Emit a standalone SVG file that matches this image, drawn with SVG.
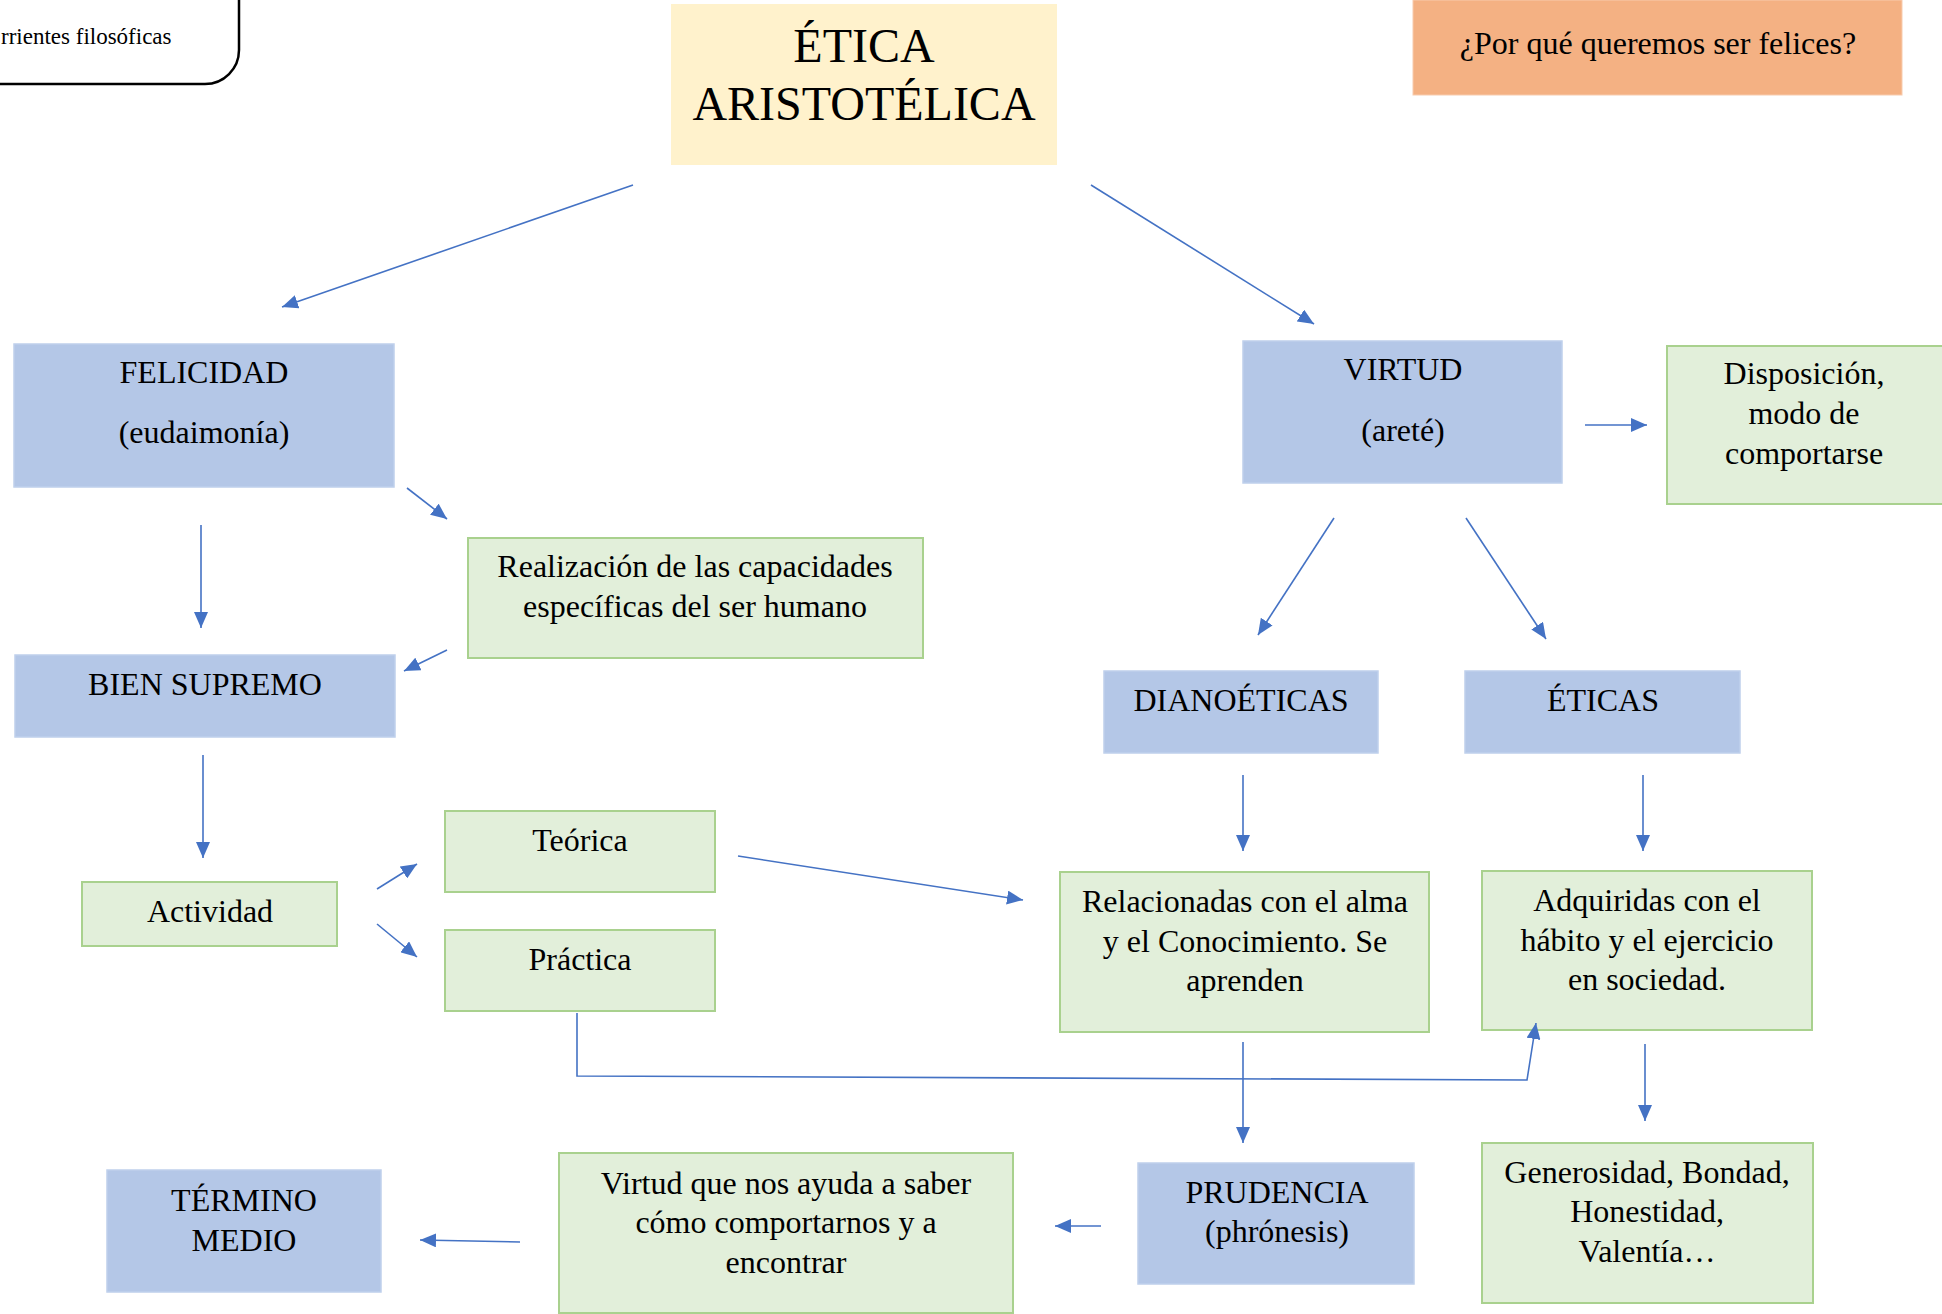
<svg xmlns="http://www.w3.org/2000/svg" width="1942" height="1314" viewBox="0 0 1942 1314">
<defs>
<style>
text{font-family:"Liberation Serif","Times New Roman",serif;fill:#000;text-anchor:middle}
.t{font-size:32px}
.blue{fill:#B4C7E7;stroke:#BFD0EC;stroke-width:1.5}
.green{fill:#E2EFDA;stroke:#A9D18E;stroke-width:2}
.c{fill:none;stroke:#4472C4;stroke-width:1.6}
</style>
<marker id="ah" markerUnits="userSpaceOnUse" markerWidth="18" markerHeight="14" refX="16" refY="7" orient="auto">
<path d="M0,0 L16,7 L0,14 Z" fill="#4472C4"/>
</marker>
</defs>
<rect width="1942" height="1314" fill="#fff"/>

<g id="corrientes">
<rect x="-200" y="-100" width="439" height="184" rx="34" fill="#fff" stroke="#000" stroke-width="2.5"/>
<text x="1" y="44" style="font-size:23px;text-anchor:start">rrientes filosóficas</text>
</g>

<g id="etica">
<rect x="671" y="4" width="386" height="161" fill="#FFF2CC"/>
<text x="864" y="62" style="font-size:48px">ÉTICA</text>
<text x="864" y="120" style="font-size:48px">ARISTOTÉLICA</text>
</g>

<g id="pregunta">
<rect x="1413" y="0" width="489" height="95" fill="#F4B183" stroke="#F8CBAD" stroke-width="1"/>
<text class="t" x="1658" y="54">¿Por qué queremos ser felices?</text>
</g>

<g id="felicidad">
<rect class="blue" x="14" y="344" width="380" height="143"/>
<text class="t" x="204" y="383">FELICIDAD</text>
<text class="t" x="204" y="443">(eudaimonía)</text>
</g>

<g id="virtud">
<rect class="blue" x="1243" y="341" width="319" height="142"/>
<text class="t" x="1403" y="380">VIRTUD</text>
<text class="t" x="1403" y="441">(areté)</text>
</g>

<g id="disposicion">
<rect class="green" x="1667" y="346" width="276" height="158"/>
<text class="t" x="1804" y="384">Disposición,</text>
<text class="t" x="1804" y="424">modo de</text>
<text class="t" x="1804" y="464">comportarse</text>
</g>

<g id="realizacion">
<rect class="green" x="468" y="538" width="455" height="120"/>
<text class="t" x="695" y="577">Realización de las capacidades</text>
<text class="t" x="695" y="617">específicas del ser humano</text>
</g>

<g id="bien-supremo">
<rect class="blue" x="15" y="655" width="380" height="82"/>
<text class="t" x="205" y="695">BIEN SUPREMO</text>
</g>

<g id="dianoeticas">
<rect class="blue" x="1104" y="671" width="274" height="82"/>
<text class="t" x="1241" y="711">DIANOÉTICAS</text>
</g>

<g id="eticas">
<rect class="blue" x="1465" y="671" width="275" height="82"/>
<text class="t" x="1603" y="711">ÉTICAS</text>
</g>

<g id="actividad">
<rect class="green" x="82" y="882" width="255" height="64"/>
<text class="t" x="210" y="922">Actividad</text>
</g>

<g id="teorica">
<rect class="green" x="445" y="811" width="270" height="81"/>
<text class="t" x="580" y="851">Teórica</text>
</g>

<g id="practica">
<rect class="green" x="445" y="930" width="270" height="81"/>
<text class="t" x="580" y="970">Práctica</text>
</g>

<g id="relacionadas">
<rect class="green" x="1060" y="872" width="369" height="160"/>
<text class="t" x="1245" y="912">Relacionadas con el alma</text>
<text class="t" x="1245" y="952">y el Conocimiento. Se</text>
<text class="t" x="1245" y="991">aprenden</text>
</g>

<g id="adquiridas">
<rect class="green" x="1482" y="871" width="330" height="159"/>
<text class="t" x="1647" y="911">Adquiridas con el</text>
<text class="t" x="1647" y="951">hábito y el ejercicio</text>
<text class="t" x="1647" y="990">en sociedad.</text>
</g>

<g id="generosidad">
<rect class="green" x="1482" y="1143" width="331" height="160"/>
<text class="t" x="1647" y="1183">Generosidad, Bondad,</text>
<text class="t" x="1647" y="1222">Honestidad,</text>
<text class="t" x="1647" y="1262">Valentía…</text>
</g>

<g id="prudencia">
<rect class="blue" x="1138" y="1163" width="276" height="121"/>
<text class="t" x="1277" y="1203">PRUDENCIA</text>
<text class="t" x="1277" y="1242">(phrónesis)</text>
</g>

<g id="virtud-saber">
<rect class="green" x="559" y="1153" width="454" height="160"/>
<text class="t" x="786" y="1194">Virtud que nos ayuda a saber</text>
<text class="t" x="786" y="1233">cómo comportarnos y a</text>
<text class="t" x="786" y="1273">encontrar</text>
</g>

<g id="termino-medio">
<rect class="blue" x="107" y="1170" width="274" height="122"/>
<text class="t" x="244" y="1211">TÉRMINO</text>
<text class="t" x="244" y="1251">MEDIO</text>
</g>

<g id="connectors">
<line class="c" x1="633" y1="185" x2="282" y2="307" marker-end="url(#ah)"/>
<line class="c" x1="1091" y1="185" x2="1314" y2="324" marker-end="url(#ah)"/>
<line class="c" x1="407" y1="488" x2="447" y2="519" marker-end="url(#ah)"/>
<line class="c" x1="201" y1="525" x2="201" y2="628" marker-end="url(#ah)"/>
<line class="c" x1="447" y1="650" x2="404" y2="671" marker-end="url(#ah)"/>
<line class="c" x1="203" y1="755" x2="203" y2="858" marker-end="url(#ah)"/>
<line class="c" x1="377" y1="889" x2="417" y2="864" marker-end="url(#ah)"/>
<line class="c" x1="377" y1="924" x2="417" y2="957" marker-end="url(#ah)"/>
<line class="c" x1="738" y1="856" x2="1023" y2="900" marker-end="url(#ah)"/>
<line class="c" x1="1585" y1="425" x2="1647" y2="425" marker-end="url(#ah)"/>
<line class="c" x1="1334" y1="518" x2="1258" y2="635" marker-end="url(#ah)"/>
<line class="c" x1="1466" y1="518" x2="1546" y2="639" marker-end="url(#ah)"/>
<line class="c" x1="1243" y1="775" x2="1243" y2="851" marker-end="url(#ah)"/>
<line class="c" x1="1643" y1="775" x2="1643" y2="851" marker-end="url(#ah)"/>
<polyline class="c" points="577,1013 577,1076 1527,1080 1536,1023" marker-end="url(#ah)"/>
<line class="c" x1="1243" y1="1042" x2="1243" y2="1143" marker-end="url(#ah)"/>
<line class="c" x1="1645" y1="1044" x2="1645" y2="1121" marker-end="url(#ah)"/>
<line class="c" x1="1101" y1="1226" x2="1055" y2="1226" marker-end="url(#ah)"/>
<line class="c" x1="520" y1="1242" x2="420" y2="1240" marker-end="url(#ah)"/>
</g>
</svg>
